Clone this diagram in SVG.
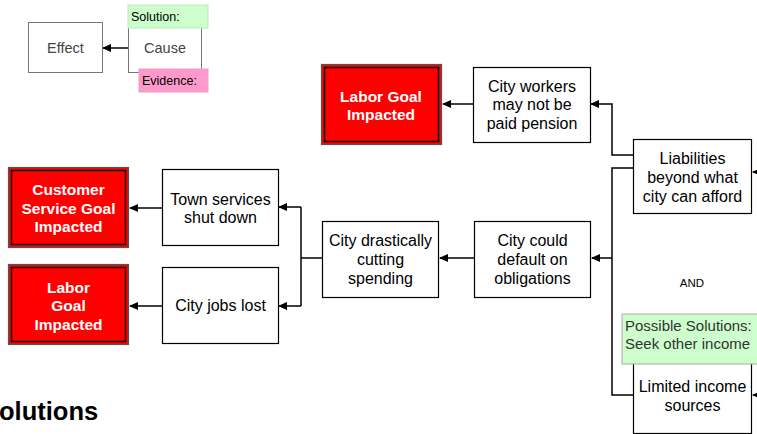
<svg xmlns="http://www.w3.org/2000/svg" width="757" height="434" viewBox="0 0 757 434">
<style>
.box{fill:#fff;stroke:#000;stroke-width:1.2}
.lbox{fill:#fff;stroke:#777;stroke-width:1}
.goal{fill:#f00;stroke:#555;stroke-width:1.2}
.goalin{fill:none;stroke:#000;stroke-width:1.5}
.t{font-family:"Liberation Sans",Arial,sans-serif;font-size:16px;fill:#000;text-anchor:middle}
.gt{font-family:"Liberation Sans",Arial,sans-serif;font-size:15.5px;font-weight:bold;fill:#fff;text-anchor:middle}
.lt{font-family:"Liberation Sans",Arial,sans-serif;font-size:14.5px;fill:#444;text-anchor:middle}
.st{font-family:"Liberation Sans",Arial,sans-serif;font-size:12.5px;fill:#000}
.pt{font-family:"Liberation Sans",Arial,sans-serif;font-size:15px;fill:#333}
.c{fill:none;stroke:#000;stroke-width:1.5}
</style>
<defs>
<marker id="ah" markerWidth="9" markerHeight="8" refX="8" refY="4" orient="auto" markerUnits="userSpaceOnUse">
<path d="M0,0 L9,4 L0,8 Z" fill="#000"/>
</marker>
</defs>
<g id="connectors">
<path class="c" d="M128,48 H103" marker-end="url(#ah)"/>
<path class="c" d="M473,104 H443" marker-end="url(#ah)"/>
<path class="c" d="M633,155 H612 V104 H591" marker-end="url(#ah)"/>
<path class="c" d="M633,168 H612 V395 H633"/>
<path class="c" d="M612,258 H592" marker-end="url(#ah)"/>
<path class="c" d="M474,258 H440" marker-end="url(#ah)"/>
<path class="c" d="M322,258 H301"/>
<path class="c" d="M301,207 V306"/>
<path class="c" d="M301,207 H279" marker-end="url(#ah)"/>
<path class="c" d="M301,306 H279" marker-end="url(#ah)"/>
<path class="c" d="M162,208 H130" marker-end="url(#ah)"/>
<path class="c" d="M162,306 H130" marker-end="url(#ah)"/>
<path class="c" d="M760,172 H753" marker-end="url(#ah)"/>
<path class="c" d="M760,395 H753" marker-end="url(#ah)"/>
</g>
<g id="legend-effect">
<rect class="lbox" x="28.5" y="22.5" width="74" height="50"/>
<text class="lt" x="65.5" y="53">Effect</text>
</g>
<g id="legend-cause">
<rect class="lbox" x="128.5" y="22.5" width="73" height="50"/>
<text class="lt" x="165" y="53">Cause</text>
</g>
<g id="legend-solution">
<rect x="128" y="5" width="80" height="23" fill="#ccffcc" stroke="#bde8bd"/>
<text class="st" x="131" y="21">Solution:</text>
</g>
<g id="legend-evidence">
<rect x="139" y="69" width="69" height="23" fill="#ff99cc" stroke="#e8a0c4"/>
<text class="st" x="142" y="85">Evidence:</text>
</g>
<g id="labor-goal-top">
<rect class="goal" x="321.5" y="64.5" width="120" height="80"/>
<rect class="goalin" x="324.5" y="67.5" width="114" height="74"/>
<text class="gt" x="381" y="102">Labor Goal</text>
<text class="gt" x="381" y="120">Impacted</text>
</g>
<g id="city-workers">
<rect class="box" x="473.5" y="67.5" width="117" height="75"/>
<text class="t" x="532" y="92">City workers</text>
<text class="t" x="532" y="110">may not be</text>
<text class="t" x="532" y="129">paid pension</text>
</g>
<g id="liabilities">
<rect class="box" x="633.5" y="139.5" width="118" height="74"/>
<text class="t" x="692.5" y="164">Liabilities</text>
<text class="t" x="692.5" y="183">beyond what</text>
<text class="t" x="692.5" y="202">city can afford</text>
</g>
<g id="city-default">
<rect class="box" x="474.5" y="221.5" width="116" height="76"/>
<text class="t" x="532.5" y="246">City could</text>
<text class="t" x="532.5" y="265">default on</text>
<text class="t" x="532.5" y="284">obligations</text>
</g>
<g id="city-cutting">
<rect class="box" x="322.5" y="221.5" width="116" height="76"/>
<text class="t" x="380.5" y="246">City drastically</text>
<text class="t" x="380.5" y="265">cutting</text>
<text class="t" x="380.5" y="284">spending</text>
</g>
<g id="town-services">
<rect class="box" x="162.5" y="169.5" width="116" height="76"/>
<text class="t" x="220.5" y="205">Town services</text>
<text class="t" x="220.5" y="223">shut down</text>
</g>
<g id="city-jobs">
<rect class="box" x="162.5" y="267.5" width="116" height="76"/>
<text class="t" x="220.5" y="311">City jobs lost</text>
</g>
<g id="customer-goal">
<rect class="goal" x="8.5" y="167.5" width="120" height="80"/>
<rect class="goalin" x="11.5" y="170.5" width="114" height="74"/>
<text class="gt" x="68.5" y="195">Customer</text>
<text class="gt" x="68.5" y="214">Service Goal</text>
<text class="gt" x="68.5" y="232">Impacted</text>
</g>
<g id="labor-goal-bottom">
<rect class="goal" x="8.5" y="264.5" width="120" height="80"/>
<rect class="goalin" x="11.5" y="267.5" width="114" height="74"/>
<text class="gt" x="68.5" y="293">Labor</text>
<text class="gt" x="68.5" y="311">Goal</text>
<text class="gt" x="68.5" y="330">Impacted</text>
</g>
<g id="and-label">
<text x="692" y="287" font-family="Liberation Sans, Arial, sans-serif" font-size="11.5" text-anchor="middle" fill="#000">AND</text>
</g>
<g id="limited-income">
<rect class="box" x="633.5" y="355.5" width="118" height="78"/>
<text class="t" x="692.5" y="392">Limited income</text>
<text class="t" x="692.5" y="411">sources</text>
</g>
<g id="possible-solutions">
<rect x="622" y="314" width="140" height="50" fill="#ccffcc" stroke="#aaa"/>
<text class="pt" x="625" y="331">Possible Solutions:</text>
<text class="pt" x="625" y="349">Seek other income</text>
</g>
<g id="solutions-heading">
<text x="-1" y="420" font-family="Liberation Sans, Arial, sans-serif" font-size="25.5" font-weight="bold" fill="#000">olutions</text>
</g>
</svg>
